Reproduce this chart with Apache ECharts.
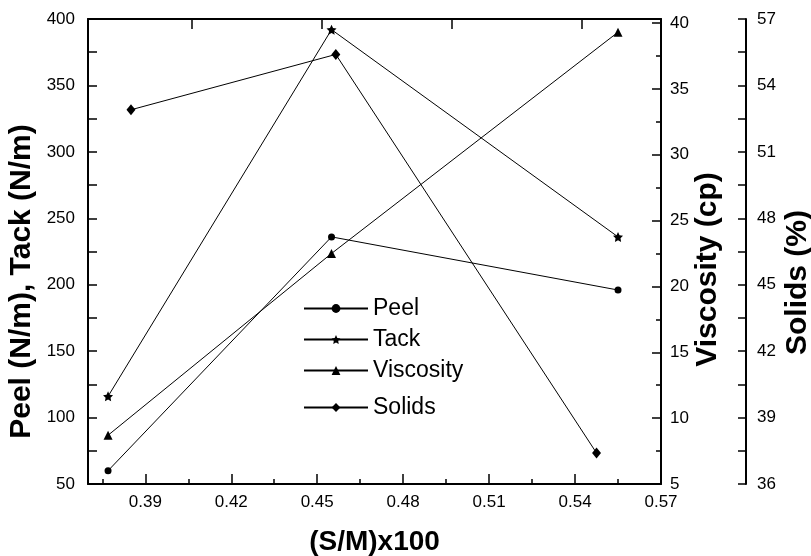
<!DOCTYPE html>
<html>
<head>
<meta charset="utf-8">
<title>Peel / Tack / Viscosity / Solids</title>
<script src="https://cdn.jsdelivr.net/npm/echarts@6/dist/echarts.min.js"></script>
<style>
    html, body { margin: 0; padding: 0; background: #fff; }
    #main { width: 811px; height: 556px; }
</style>
</head>
<body>
<div id="main"></div>
<script>
// 数据
var xPTV       = [0.377, 0.455, 0.555];    // Peel / Tack / Viscosity 的 x
var xSolids    = [0.385, 0.4565, 0.5475];  // Solids 的 x
var peel       = [60, 236, 196];
var tack       = [116, 392, 236];
var viscosity  = [8.7, 22.5, 39.3];
var solids     = [52.9, 55.4, 37.4];

var xLabels    = [0.39, 0.42, 0.45, 0.48, 0.51, 0.54, 0.57];
var xMinor     = [0.375, 0.405, 0.435, 0.465, 0.495, 0.525, 0.555];
var xTopTicks  = [0.4063, 0.4517, 0.4971, 0.5424];
var viscTicks  = [5, 10, 15, 20, 25, 30, 35, 40];
var viscMinor  = [7.5, 12.5, 17.5, 22.5, 27.5, 32.5, 37.5];

var FONT = "'Liberation Sans', Arial, Helvetica, sans-serif";
var STAR = 'path://M0,-10 L2.9,-4 9.5,-3.1 4.7,1.5 5.9,8.1 0,5 -5.9,8.1 -4.7,1.5 -9.5,-3.1 -2.9,-4 Z';

function pairs(xs, ys){
    var out = [];
    for(var i in xs){
        out.push([xs[i], ys[i]]);
    }
    return out;
}

var axisLine = { show: true, lineStyle: { color: '#000', width: 2 } };
var tickStyle = { color: '#000', width: 1.5 };
var labelStyle = { color: '#000', fontSize: 17, fontFamily: FONT };
var nameStyle = { color: '#000', fontSize: 30, fontWeight: 'bold', fontFamily: FONT };

var myChart = echarts.init(document.getElementById('main'), null, { renderer: 'canvas' });

var option = {
    animation: false,
    backgroundColor: '#fff',
    grid: { left: 88, right: 150, top: 19, bottom: 72, outerBoundsMode: 'none', containLabel: false },
    legend: [{
        data: ['Peel', 'Tack', 'Viscosity'],
        orient: 'vertical',
        left: 298, top: 292,
        itemWidth: 64, itemHeight: 11, itemGap: 8,
        textStyle: { color: '#000', fontSize: 23, fontFamily: FONT }
    }, {
        data: ['Solids'],
        orient: 'vertical',
        left: 298, top: 391,
        itemWidth: 64, itemHeight: 11,
        textStyle: { color: '#000', fontSize: 23, fontFamily: FONT }
    }],
    xAxis: [{
        // 主刻度 + 标签
        type: 'value', position: 'bottom',
        min: 0.37, max: 0.57,
        name: '(S/M)x100', nameLocation: 'middle', nameGap: 44, nameMoveOverlap: false,
        nameTextStyle: { color: '#000', fontSize: 28, fontWeight: 'bold', fontFamily: FONT },
        axisLine: axisLine,
        axisTick: { show: true, inside: true, length: 10, lineStyle: tickStyle, customValues: xLabels },
        axisLabel: { color: '#000', fontSize: 17, fontFamily: FONT, margin: 10, customValues: xLabels,
            formatter: function(v){ return v.toFixed(2); } },
        splitLine: { show: false }
    }, {
        // 次刻度
        type: 'value', position: 'bottom',
        min: 0.37, max: 0.57,
        axisLine: { show: false },
        axisTick: { show: true, inside: true, length: 5, lineStyle: tickStyle, customValues: xMinor },
        axisLabel: { show: false },
        splitLine: { show: false }
    }, {
        // 顶边框
        type: 'value', position: 'top',
        min: 0.37, max: 0.57,
        axisLine: axisLine,
        axisTick: { show: true, inside: true, length: 10, lineStyle: tickStyle, customValues: xTopTicks },
        axisLabel: { show: false },
        splitLine: { show: false }
    }],
    yAxis: [{
        type: 'value', position: 'left',
        min: 50, max: 400, interval: 50,
        name: 'Peel (N/m), Tack (N/m)', nameLocation: 'middle', nameGap: 51, nameRotate: 90, nameMoveOverlap: false,
        nameTextStyle: echarts.util.extend({ padding: [0, 60, 0, 0] }, nameStyle),
        axisLine: axisLine,
        axisTick: { show: true, inside: true, length: 9, lineStyle: tickStyle },
        minorTick: { show: true, splitNumber: 2, length: 9, lineStyle: tickStyle },
        axisLabel: echarts.util.extend({ margin: 13 }, labelStyle),
        splitLine: { show: false }
    }, {
        type: 'value', position: 'right', offset: 0,
        min: 5, max: 40.3,
        name: 'Viscosity (cp)', nameLocation: 'middle', nameGap: 32, nameRotate: 90, nameMoveOverlap: false,
        nameTextStyle: echarts.util.extend({ padding: [0, 36, 0, 0] }, nameStyle),
        axisLine: axisLine,
        axisTick: { show: true, inside: true, length: 9, lineStyle: tickStyle, customValues: viscTicks },
        axisLabel: echarts.util.extend({ margin: 9, customValues: viscTicks }, labelStyle),
        splitLine: { show: false }
    }, {
        // Viscosity 次刻度
        type: 'value', position: 'right', offset: 0,
        min: 5, max: 40.3,
        axisLine: { show: false },
        axisTick: { show: true, inside: true, length: 5, lineStyle: tickStyle, customValues: viscMinor },
        axisLabel: { show: false },
        splitLine: { show: false }
    }, {
        type: 'value', position: 'right', offset: 85,
        min: 36, max: 57, interval: 3,
        name: 'Solids (%)', nameLocation: 'middle', nameGap: 37, nameRotate: 90, nameMoveOverlap: false,
        nameTextStyle: echarts.util.extend({ padding: [0, 62, 0, 0] }, nameStyle),
        axisLine: axisLine,
        axisTick: { show: true, inside: true, length: 8, lineStyle: tickStyle },
        minorTick: { show: true, splitNumber: 2, length: 8, lineStyle: tickStyle },
        axisLabel: echarts.util.extend({ margin: 11 }, labelStyle),
        splitLine: { show: false }
    }],
    series: [{
        name: 'Peel', type: 'line', xAxisIndex: 0, yAxisIndex: 0,
        data: pairs(xPTV, peel),
        symbol: 'circle', symbolSize: 7,
        lineStyle: { color: '#000', width: 1 }, itemStyle: { color: '#000' }
    }, {
        name: 'Tack', type: 'line', xAxisIndex: 0, yAxisIndex: 0,
        data: pairs(xPTV, tack),
        symbol: STAR, symbolSize: 10,
        lineStyle: { color: '#000', width: 1 }, itemStyle: { color: '#000' }
    }, {
        name: 'Viscosity', type: 'line', xAxisIndex: 0, yAxisIndex: 1,
        data: pairs(xPTV, viscosity),
        symbol: 'triangle', symbolSize: 9,
        lineStyle: { color: '#000', width: 1 }, itemStyle: { color: '#000' }
    }, {
        name: 'Solids', type: 'line', xAxisIndex: 0, yAxisIndex: 3,
        data: pairs(xSolids, solids),
        symbol: 'diamond', symbolSize: [9, 11],
        lineStyle: { color: '#000', width: 1 }, itemStyle: { color: '#000' }
    }]
};
myChart.setOption(option);
</script>
</body>
</html>
